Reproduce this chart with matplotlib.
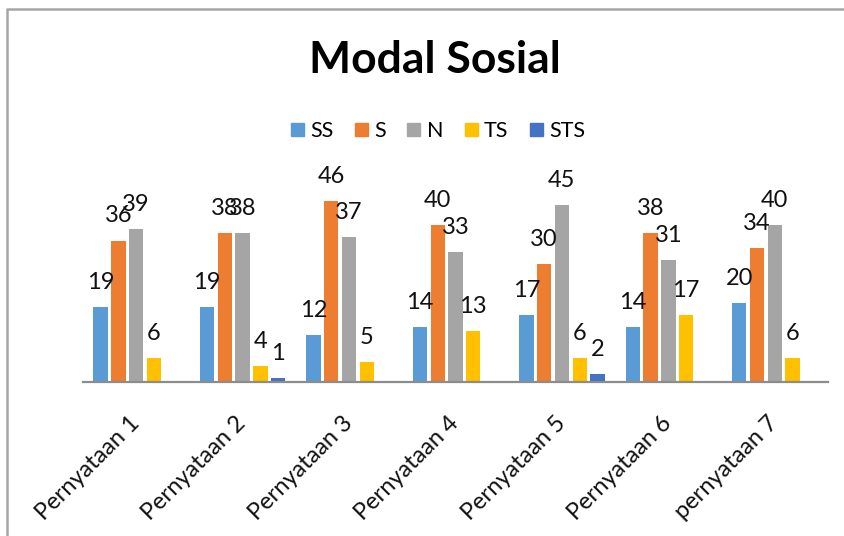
import numpy as np
import matplotlib.pyplot as plt
from matplotlib.lines import Line2D
from matplotlib.patches import Patch

plt.rcParams['font.family'] = ['Lato', 'DejaVu Sans']

categories = ['Pernyataan 1', 'Pernyataan 2', 'Pernyataan 3', 'Pernyataan 4',
              'Pernyataan 5', 'Pernyataan 6', 'pernyataan 7']
series = ['SS', 'S', 'N', 'TS', 'STS']
ss = [19, 19, 12, 14, 17, 14, 20]
s = [36, 38, 46, 40, 30, 38, 34]
n = [39, 38, 37, 33, 45, 31, 40]
ts = [6, 4, 5, 13, 6, 17, 6]
sts = [0, 1, 0, 0, 2, 0, 0]
values = [ss, s, n, ts, sts]
colors = ['#5B9BD5', '#ED7D31', '#A5A5A5', '#FFC000', '#4472C4']

fig = plt.figure(figsize=(8.45, 5.36), dpi=100)
ax = fig.add_axes([83 / 845, 1 - 382 / 536, 745 / 845, 196.5 / 536])

x = np.arange(len(categories))
pitch = 0.167
width = 0.135
for i, (name, vals, c) in enumerate(zip(series, values, colors)):
    pos = x + (i - 2) * pitch
    ax.bar(pos, vals, width, color=c, label=name, zorder=2)
    for px, v in zip(pos, vals):
        if v == 0:
            continue
        ax.annotate(str(v), (px, v), xytext=(0, 13), textcoords='offset points',
                    ha='center', va='baseline', fontsize=17, color='#111111',
                    annotation_clip=False)

ax.set_xlim(-0.5, len(categories) - 0.5)
ax.set_ylim(0, 50)
ax.set_yticks([])
for side in ['top', 'right', 'left']:
    ax.spines[side].set_visible(False)
ax.spines['bottom'].set_color('#8C8C8C')
ax.spines['bottom'].set_linewidth(1.6)
ax.set_xticks(x)
ax.set_xticklabels(categories, rotation=45, ha='right', va='center',
                   rotation_mode='anchor', fontsize=17, color='#111111')
ax.tick_params(axis='x', length=0, pad=27)

fig.text(435 / 845, 1 - 60 / 536, 'Modal Sosial', ha='center', va='center',
         fontsize=32, fontweight='bold')

handles = [Patch(color=c) for c in colors]
fig.legend(handles, series, loc='center', bbox_to_anchor=(438 / 845, 1 - 131 / 536),
           ncol=5, frameon=False, fontsize=15.5, handlelength=0.6, handleheight=0.6,
           handletextpad=0.3, columnspacing=1.0)

# outer chart border (top and left edges only, the rest runs off the image)
x0, y0 = 7 / 845, 1 - 9 / 536
fig.add_artist(Line2D([x0, x0, 1.0], [0.0, y0, y0], transform=fig.transFigure,
                      color='#A6A6A6', linewidth=1.8))

fig.savefig('out.png', dpi=100)
